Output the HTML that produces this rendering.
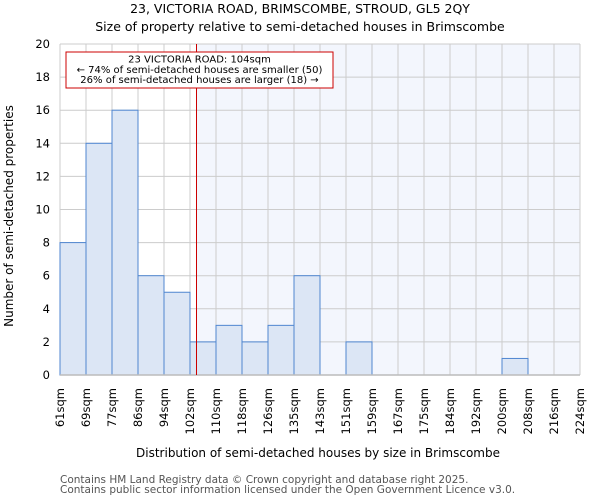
<!DOCTYPE html>
<html><head><meta charset="utf-8"><style>
body{margin:0;background:#fff;font-family:"DejaVu Sans","Liberation Sans",sans-serif}
</style></head><body>
<svg id="chart" width="600" height="500" xmlns="http://www.w3.org/2000/svg" font-family="DejaVu Sans, Liberation Sans, sans-serif">
<text x="300" y="13" text-anchor="middle" font-size="12.5">23, VICTORIA ROAD, BRIMSCOMBE, STROUD, GL5 2QY</text>
<text x="300" y="31" text-anchor="middle" font-size="12.5">Size of property relative to semi-detached houses in Brimscombe</text>
<g id="plot"></g>
<text transform="translate(13,216) rotate(-90)" text-anchor="middle" font-size="12">Number of semi-detached properties</text>
<text x="318" y="457" text-anchor="middle" font-size="12">Distribution of semi-detached houses by size in Brimscombe</text>
<text x="60" y="483" font-size="10.5" fill="#555">Contains HM Land Registry data © Crown copyright and database right 2025.</text>
<text x="60" y="493" font-size="10.5" fill="#555">Contains public sector information licensed under the Open Government Licence v3.0.</text>
</svg>
<script>
const binLabels=["61sqm","69sqm","77sqm","86sqm","94sqm","102sqm","110sqm","118sqm","126sqm","135sqm","143sqm","151sqm","159sqm","167sqm","175sqm","184sqm","192sqm","200sqm","208sqm","216sqm","224sqm"];
const binEdges=[61,69,77,86,94,102,110,118,126,135,143,151,159,167,175,184,192,200,208,216,224];
const counts=[8,14,16,6,5,2,3,2,3,6,0,2,0,0,0,0,0,1,0,0];
const yTicks=[0,2,4,6,8,10,12,14,16,18,20];
const subjectSize=104;
const NS="http://www.w3.org/2000/svg";
const x0=60,x1=580,yTop=44,yBot=375,yMax=20;
const bw=(x1-x0)/counts.length;
const xi=i=>x0+i*bw;
const y=v=>yBot-(v/yMax)*(yBot-yTop);
function xv(v){for(let i=0;i<binEdges.length-1;i++){if(v<=binEdges[i+1])return xi(i)+bw*(v-binEdges[i])/(binEdges[i+1]-binEdges[i]);}return x1;}
const g=document.getElementById('plot');
function mk(t,a){const e=document.createElementNS(NS,t);for(const k in a)e.setAttribute(k,a[k]);g.appendChild(e);return e;}
const lx=xv(subjectSize);
let e=mk('rect',{x:lx,y:yTop,width:x1-lx,height:yBot-yTop,fill:'#f3f6fd'});


for(let i=0;i<binLabels.length;i++){
 e=mk('line',{x1:xi(i),x2:xi(i),y1:yTop,y2:yBot,stroke:'#cccccc','stroke-width':1});
 
 
 e=mk('text',{transform:`translate(${xi(i)+4},388) rotate(-90)`,'text-anchor':'end','font-size':11.5});
 e.textContent=binLabels[i];
 
 
}
yTicks.forEach(t=>{
 e=mk('line',{x1:x0,x2:x1,y1:y(t),y2:y(t),stroke:'#cccccc','stroke-width':1});
 
 
 e=mk('text',{x:50,y:y(t)+4,'text-anchor':'end','font-size':11.5});
 e.textContent=t;
 
 
});
counts.forEach((c,i)=>{
 if(c<=0)return;
 e=mk('rect',{x:xi(i),y:y(c),width:bw,height:yBot-y(c),fill:'#dce6f5',stroke:'#4f86d0','stroke-width':1});
 
 
});
e=mk('line',{x1:x0,x2:x1,y1:yBot,y2:yBot,stroke:'#bbbbbb','stroke-width':1.5});


e=mk('line',{x1:lx,x2:lx,y1:yTop,y2:yBot,stroke:'#cc0000','stroke-width':1});


e=mk('rect',{x:66,y:52,width:267,height:36,fill:'#fff',stroke:'#cc0000','stroke-width':1});


const ann=["23 VICTORIA ROAD: 104sqm","← 74% of semi-detached houses are smaller (50)","26% of semi-detached houses are larger (18) →"];
ann.forEach((s,k)=>{
 e=mk('text',{x:199.5,y:62.5+k*10.3,'text-anchor':'middle','font-size':10});
 e.textContent=s;
 
 
});
</script>
</body></html>
